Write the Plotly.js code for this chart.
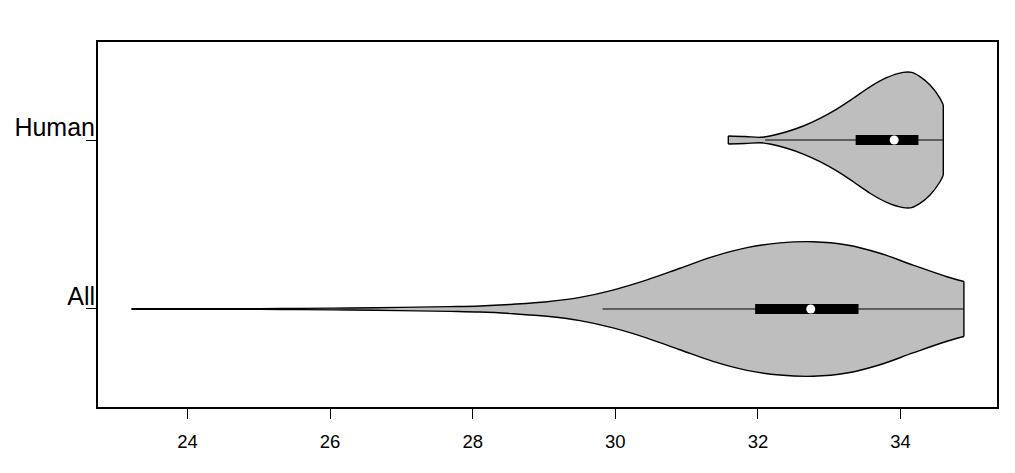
<!DOCTYPE html>
<html>
<head>
<meta charset="utf-8">
<script src="https://cdn.plot.ly/plotly-3.0.1.min.js"></script>
<style>html,body{margin:0;padding:0;background:#fff;}#chart{width:1015px;height:473px;}</style>
</head>
<body>
<div id="chart"></div>
<script>
// Categories (bottom to top) and their positions on the value axis
const categories = ["All", "Human"];
const categoryPos = [1, 2];

// Density outline of each violin: x values and half-widths (in category units)
const allX = [23.217, 24.176, 25.017, 25.578, 26.279, 26.980, 27.681, 28.102, 28.565, 29.041, 29.504, 29.967, 30.444, 30.906, 31.369, 31.846, 32.308, 32.771, 33.248, 33.711, 34.173, 34.650, 34.888];
const allHalf = [0.002, 0.002, 0.0024, 0.0036, 0.006, 0.0095, 0.014, 0.018, 0.028, 0.043, 0.069, 0.112, 0.172, 0.241, 0.310, 0.363, 0.391, 0.398, 0.379, 0.330, 0.260, 0.191, 0.163];

const humanX = [31.584, 31.82, 32.03, 32.169, 32.403, 32.636, 32.870, 33.104, 33.337, 33.571, 33.805, 34.038, 34.156, 34.272, 34.413, 34.553, 34.599];
const humanHalf = [0.024, 0.021, 0.016, 0.024, 0.049, 0.083, 0.128, 0.183, 0.247, 0.315, 0.369, 0.400, 0.400, 0.375, 0.325, 0.247, 0.207];

// Box statistics: [lower whisker, Q1, median, Q3, upper whisker]
const allStats = [29.82, 31.96, 32.74, 33.41, 34.89];
const humanStats = [32.10, 33.37, 33.91, 34.25, 34.60];

// Axis ticks
const xTicks = [24, 26, 28, 30, 32, 34];

function violinTraces(xs, halves, center, stats) {
  const n = xs.length;
  const upper = xs.map((_, i) => center + halves[i]);
  const lower = xs.map((_, i) => center - halves[i]);
  const base = {type: 'scatter', mode: 'lines', hoverinfo: 'skip', showlegend: false};
  return [
    Object.assign({}, base, {x: xs, y: upper, line: {color: '#000', width: 1.4, shape: 'spline', smoothing: 1}}),
    Object.assign({}, base, {x: xs, y: lower, fill: 'tonexty', fillcolor: '#BEBEBE',
      line: {color: '#000', width: 1.4, shape: 'spline', smoothing: 1}}),
    Object.assign({}, base, {x: [xs[0], xs[0]], y: [lower[0], upper[0]], line: {color: '#000', width: 1.4}}),
    Object.assign({}, base, {x: [xs[n - 1], xs[n - 1]], y: [lower[n - 1], upper[n - 1]], line: {color: '#000', width: 1.4}}),
    Object.assign({}, base, {x: [stats[0], stats[4]], y: [center, center], line: {color: '#000', width: 1}}),
    Object.assign({}, base, {x: [stats[1], stats[3]], y: [center, center], line: {color: '#000', width: 10}}),
    Object.assign({}, base, {mode: 'markers', x: [stats[2]], y: [center],
      marker: {color: '#fff', size: 9, line: {width: 0}}})
  ];
}

const data = [].concat(
  violinTraces(allX, allHalf, categoryPos[0], allStats),
  violinTraces(humanX, humanHalf, categoryPos[1], humanStats)
);

const layout = {
  width: 1015, height: 473,
  margin: {l: 98, r: 18, t: 42, b: 66, pad: 0},
  paper_bgcolor: '#fff', plot_bgcolor: '#fff',
  font: {family: 'Liberation Sans, Arial, sans-serif', color: '#000'},
  showlegend: false,
  xaxis: {
    range: [22.745, 35.352], tickvals: xTicks, ticktext: xTicks.map(String),
    showgrid: false, zeroline: false, showline: true, mirror: true, linecolor: '#000', linewidth: 2,
    ticks: 'outside', ticklen: 10, tickwidth: 1, tickcolor: '#000',
    tickfont: {size: 18.5, family: 'Liberation Sans, Arial, sans-serif', color: '#000'},
    ticklabelstandoff: 7
  },
  yaxis: {
    range: [0.42, 2.58], tickvals: categoryPos, ticktext: categories,
    showgrid: false, zeroline: false, showline: true, mirror: true, linecolor: '#000', linewidth: 2,
    ticks: 'outside', ticklen: 10, tickwidth: 1, tickcolor: '#000',
    tickfont: {size: 25, family: 'Liberation Sans, Arial, sans-serif', color: '#000'},
    ticklabelstandoff: -14, ticklabelshift: -13
  }
};

Plotly.newPlot('chart', data, layout, {displayModeBar: false, staticPlot: true});
</script>
</body>
</html>
